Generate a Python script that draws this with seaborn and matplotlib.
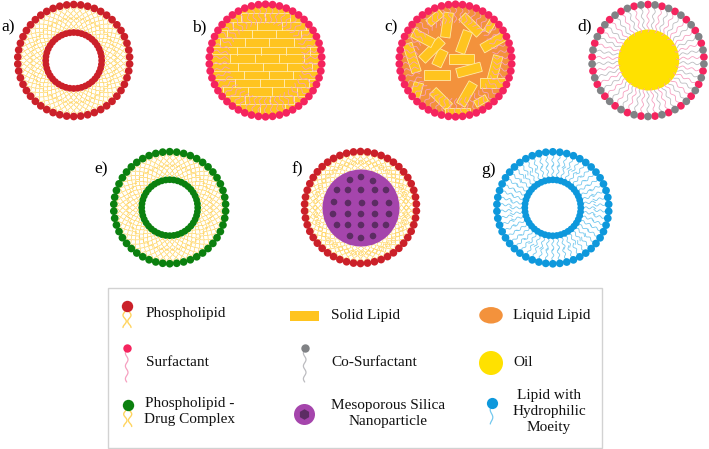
# Lipid nanocarrier schematic, drawn on a pixel sized axes
import numpy as np
import pandas as pd
import matplotlib
matplotlib.use('Agg')
import matplotlib.pyplot as plt
from matplotlib.patches import Circle, Ellipse, Rectangle
import seaborn as sns

sns.set_theme(style='white')
plt.rcParams['font.family'] = ['Liberation Serif', 'DejaVu Serif']

RED = '#CB2029'
PINK = '#F5245E'
GREEN = '#0B800F'
BLUE = '#0E98DC'
GREY = '#808285'
YELLOW = '#FFC41F'
TAIL_YELLOW = '#FFD45F'
TAIL_PINK = '#F6A0C0'
TAIL_GREY = '#BCBCC0'
TAIL_BLUE = '#74C8EE'
ORANGE = '#F3923C'
OIL = '#FFE100'
PURPLE = '#A545AC'
DARK_PURPLE = '#5C2C63'

# panel labels
panel_labels = ['a)', 'b)', 'c)', 'd)', 'e)', 'f)', 'g)']
panel_label_x = [1, 192, 384, 577, 94, 292, 481]
panel_label_y = [27, 27, 27, 26, 169, 169, 170]

# vesicle centres
centre_a = (73.7, 60.5)
centre_b = (265.5, 60.5)
centre_c = (455.5, 60.5)
centre_d = (648, 60.5)
centre_e = (169.7, 207.7)
centre_f = (360.5, 207.5)
centre_g = (552.8, 207.8)

# bead counts
outer_count = 50
inner_count = 44
surfactant_count = 50

# solid lipid blocks in c): centre x, centre y, length, width, tilt
block_x = [447, 471, 490, 494, 464, 440, 432, 423, 412, 461, 469, 437, 495, 492, 467, 441, 417, 481, 457, 435]
block_y = [25, 25, 26, 42, 42, 58, 50, 38, 58, 59, 70, 75, 68, 83, 94, 99, 90, 101, 113, 18]
block_len = [25, 25, 13, 27, 23, 17, 28, 23, 30, 25, 25, 26, 25, 25, 25, 23, 15, 13, 25, 17]
block_wid = [9.5, 9.5, 7, 9.5, 9.5, 10, 9.5, 9.5, 9.5, 9.5, 9.5, 9.5, 9.5, 9.5, 9.5, 9.5, 9.5, 7, 9.5, 8]
block_tilt = [82, -45, 58, 30, 70, 65, 45, -28, -72, 0, 15, 0, 75, 0, 60, -45, 75, 30, 0, 40]

# brick seams in b)
brick_rows = [13, 22, 30, 38, 47, 54, 63, 71, 79, 87, 96, 104]
brick_start = [216, 208, 227, 220, 212, 230, 238, 244, 235, 223, 245, 260]

# drug pockets in f)
pore_x = [350, 361, 373, 337, 348, 361, 375, 386, 334, 348, 362, 375, 389,
          333, 348, 361, 375, 389, 337, 348, 361, 375, 386, 350, 361, 373]
pore_y = [180, 177, 181, 190, 190, 190, 190, 190, 202, 203, 203, 203, 203,
          214, 214, 214, 214, 214, 225, 225, 225, 225, 225, 236, 238, 236]


def wavy(ax, x0, y0, x1, y1, waves, amp, color, lw=0.6, phase=0.0, zorder=2):
    t = np.linspace(0, 1, 60)
    dx, dy = x1 - x0, y1 - y0
    norm = np.hypot(dx, dy)
    off = amp * np.sin(2 * np.pi * waves * t + phase)
    ax.plot(x0 + dx * t - dy / norm * off, y0 + dy * t + dx / norm * off,
            color=color, lw=lw, zorder=zorder, solid_capstyle='round')


def forked(ax, x0, y0, x1, y1, amp, color, lw=0.5, zorder=2, lobes=1.5):
    # the two legs of a phospholipid, they never quite touch at the neck
    t = np.linspace(0, 1, 60)
    dx, dy = x1 - x0, y1 - y0
    norm = np.hypot(dx, dy)
    for sign in [-1, 1]:
        off = sign * amp * (0.18 + 0.82 * np.sin(np.pi * lobes * t) ** 2)
        ax.plot(x0 + dx * t - dy / norm * off, y0 + dy * t + dx / norm * off,
                color=color, lw=lw, zorder=zorder)


def beads(ax, xs, ys, color, radius, zorder=5, marker='o'):
    frame = pd.DataFrame({'x': xs, 'y': ys})
    size = (2 * radius * 0.72) ** 2
    sns.scatterplot(data=frame, x='x', y='y', color=color, s=size, linewidth=0,
                    marker=marker, ax=ax, zorder=zorder, clip_on=False, legend=False)
    # one size per point stops agg from rounding marker positions to whole pixels
    ax.collections[-1].set_sizes(np.full(len(frame), size))
    ax.collections[-1].set_snap(False)


def ring_xy(centre, radius, count, start=np.pi / 2):
    ang = start + np.arange(count) * 2 * np.pi / count
    return centre[0] + radius * np.cos(ang), centre[1] + radius * np.sin(ang), ang


def bilayer(ax, centre, head, single=False):
    # outer and inner leaflet meeting half way
    for radius, count, end in [(56, outer_count, 41), (28, inner_count, 43)]:
        xs, ys, ang = ring_xy(centre, radius, count)
        for x, y, a in zip(xs, ys, ang):
            ex, ey = centre[0] + end * np.cos(a), centre[1] + end * np.sin(a)
            if single:
                wavy(ax, x, y, ex, ey, 2.2, 1.0, TAIL_BLUE, lw=0.6)
            else:
                forked(ax, x, y, ex, ey, 2.6, TAIL_YELLOW, lobes=2.5)
        beads(ax, xs, ys, head, 3.85 if radius > 50 else 3.4)


fig, ax = plt.subplots(figsize=(7.09, 4.49), dpi=100)
fig.subplots_adjust(left=0, right=1, bottom=0, top=1)

# a, e, g
bilayer(ax, centre_a, RED)
bilayer(ax, centre_e, GREEN)
bilayer(ax, centre_g, BLUE, single=True)

# b: solid core made of bricks
core = Circle(centre_b, 55, color=YELLOW, lw=0, zorder=1)
ax.add_patch(core)
for i, (row, start) in enumerate(zip(brick_rows, brick_start)):
    ln, = ax.plot([200, 335], [row, row], color='#FFE9A8', lw=0.6, zorder=1.5)
    ln.set_clip_path(core)
    for seam in np.arange(start, 335, 24.5):
        ln, = ax.plot([seam, seam], [row, row + 8.2], color='#FFF0C4', lw=0.6, zorder=1.5)
        ln.set_clip_path(core)
xs, ys, ang = ring_xy(centre_b, 56.3, surfactant_count)
for j, (x, y, a) in enumerate(zip(xs, ys, ang)):
    ex, ey = centre_b[0] + 37 * np.cos(a), centre_b[1] + 37 * np.sin(a)
    wavy(ax, x, y, ex, ey, 2.2, 1.2, TAIL_PINK, lw=0.6)
beads(ax, xs, ys, PINK, 3.85)

# c: solid blocks in a liquid core
core = Circle(centre_c, 55, color=ORANGE, lw=0, zorder=1)
ax.add_patch(core)
for cx, cy, ln_, wd, tilt in zip(block_x, block_y, block_len, block_wid, block_tilt):
    block = Rectangle((cx - ln_ / 2, cy - wd / 2), ln_, wd, angle=-tilt, rotation_point='center',
                      facecolor=YELLOW, edgecolor='#FFE9A8', lw=0.6, zorder=1.5)
    ax.add_patch(block)
    block.set_clip_path(core)
xs, ys, ang = ring_xy(centre_c, 56.3, surfactant_count)
for x, y, a in zip(xs, ys, ang):
    ex, ey = centre_c[0] + 38 * np.cos(a), centre_c[1] + 38 * np.sin(a)
    wavy(ax, x, y, ex, ey, 2.2, 1.2, TAIL_PINK, lw=0.6)
beads(ax, xs, ys, PINK, 3.85)

# d: oil droplet
ax.add_patch(Circle((648.7, 60), 30.5, color=OIL, lw=0, zorder=3))
xs, ys, ang = ring_xy(centre_d, 56, surfactant_count)
for j, (x, y, a) in enumerate(zip(xs, ys, ang)):
    ex, ey = centre_d[0] + 28.5 * np.cos(a), centre_d[1] + 28.5 * np.sin(a)
    wavy(ax, x, y, ex, ey, 3, 1.1, TAIL_PINK if j % 2 else TAIL_GREY, lw=0.6, zorder=4 if j % 2 else 2)
beads(ax, xs[1::2], ys[1::2], PINK, 3.85)
beads(ax, xs[0::2], ys[0::2], GREY, 3.85)

# f: silica particle
xs, ys, ang = ring_xy(centre_f, 56, outer_count)
for x, y, a in zip(xs, ys, ang):
    ex, ey = centre_f[0] + 43 * np.cos(a), centre_f[1] + 43 * np.sin(a)
    forked(ax, x, y, ex, ey, 2.6, TAIL_YELLOW, lobes=2.5)
beads(ax, xs, ys, RED, 3.85)
xs, ys, ang = ring_xy((361, 208), 38, 40)
for x, y, a in zip(xs, ys, ang):
    ex, ey = 361 + 48 * np.cos(a), 208 + 48 * np.sin(a)
    forked(ax, x, y, ex, ey, 2.6, TAIL_YELLOW, lobes=2)
ax.add_patch(Circle((361, 208), 38.5, color=PURPLE, lw=0, zorder=3))
beads(ax, pore_x, pore_y, DARK_PURPLE, 3.3)

for lab, lx, ly in zip(panel_labels, panel_label_x, panel_label_y):
    ax.text(lx, ly, lab, fontsize=12.5, ha='left', va='center', color='black')

# legend box
ax.add_patch(Rectangle((108.3, 287.7), 494, 160.6, facecolor='white', edgecolor='#D2D2D2', lw=1, zorder=0.5))

forked(ax, 127, 309, 127, 327.5, 4, TAIL_YELLOW, lw=1)
beads(ax, [127], [306], RED, 5.7)
wavy(ax, 126.7, 350, 126.7, 382, 2.5, 1.3, TAIL_PINK, lw=0.9)
beads(ax, [126.7], [348], PINK, 4.2)
forked(ax, 127.7, 408, 127.7, 426.5, 4, TAIL_YELLOW, lw=1)
beads(ax, [127.7], [405], GREEN, 5.7)

ax.add_patch(Rectangle((290, 311), 28.7, 9.5, color=YELLOW, lw=0))
wavy(ax, 304.7, 350, 304.7, 382, 2.5, 1.3, TAIL_GREY, lw=0.9)
beads(ax, [304.7], [348], GREY, 4.2)
beads(ax, [304.3], [414], PURPLE, 10.5)
beads(ax, [304.3], [414], DARK_PURPLE, 5.3, zorder=6, marker='h')

ax.add_patch(Ellipse((491, 315.3), 23.5, 16.5, color=ORANGE, lw=0))
ax.add_patch(Circle((491, 363), 12, color=OIL, lw=0))
wavy(ax, 491.5, 406, 491.5, 424, 1.2, 1.3, TAIL_BLUE, lw=0.9)
beads(ax, [491.7], [403], BLUE, 5.6)

font = dict(fontsize=11, color='#111111', va='center', zorder=7)
ax.text(145.6, 314, 'Phospholipid', ha='left', **font)
ax.text(145.6, 362, 'Surfactant', ha='left', **font)
ax.text(190, 411, 'Phospholipid -\nDrug Complex', ha='center', linespacing=1.3, **font)
ax.text(331, 315, 'Solid Lipid', ha='left', **font)
ax.text(331, 362, 'Co-Surfactant', ha='left', **font)
ax.text(388, 413, 'Mesoporous Silica\nNanoparticle', ha='center', linespacing=1.3, **font)
ax.text(513, 315, 'Liquid Lipid', ha='left', **font)
ax.text(513, 362, 'Oil', ha='left', **font)
ax.text(549, 411, 'Lipid with\nHydrophilic\nMoeity', ha='center', linespacing=1.3, **font)

ax.set_xlim(0, 709)
ax.set_ylim(449, 0)
ax.axis('off')

fig.savefig('out.png', dpi=100)
